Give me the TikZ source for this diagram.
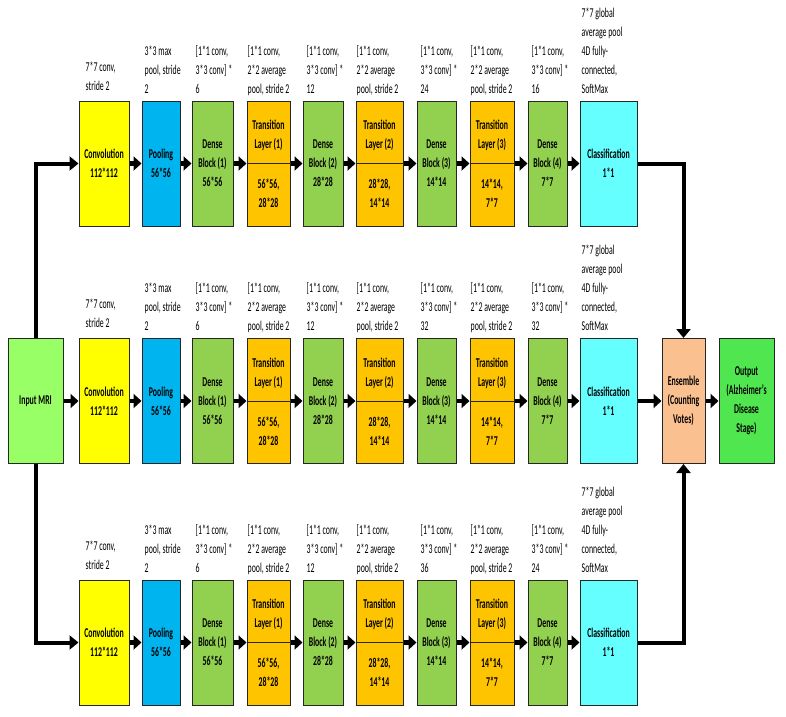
\documentclass[tikz,border=0pt]{standalone}
\usepackage{fontspec}
\setmainfont{Carlito}[FakeStretch=0.58]
\usetikzlibrary{arrows.meta}
\definecolor{convc}{HTML}{FFFF00}
\definecolor{poolc}{HTML}{00B4F0}
\definecolor{densec}{HTML}{92D050}
\definecolor{transc}{HTML}{FFC400}
\definecolor{clsc}{HTML}{66FFFF}
\definecolor{inpc}{HTML}{99FF66}
\definecolor{ensc}{HTML}{FAC090}
\definecolor{outc}{HTML}{4FE64F}
\tikzset{
  box/.style={draw=black!85, line width=1pt, minimum height=125pt, inner sep=0pt,
    align=center, font=\fontsize{13.5}{19}\selectfont\bfseries, text=black},
  lbl/.style={inner sep=0pt, align=center, font=\fontsize{13.5}{19}\selectfont\bfseries},
  ann/.style={anchor=south west, inner sep=0pt, align=left, text depth=0pt,
    font=\fontsize{13.5}{19}\selectfont},
  link/.style={line width=4.5pt, -{Triangle[length=8pt,width=14pt]}},
  conn/.style={line width=4pt, -{Triangle[length=9pt,width=14pt]}},
  splitline/.style={draw=black!85, line width=1pt}
}
% transition box: name, x, y, width, top text, bottom text
\newcommand\tbox[6]{%
  \node[box, fill=transc, minimum width=#4pt] (#1) at (#2,#3) {};
  \draw[splitline] (#1.west) -- (#1.east);
  \node[lbl] (#1a) at ([yshift=28pt]#1.center) {#5};
  \node[lbl] (#1b) at ([yshift=-30pt]#1.center) {#6};
  \node[ann] (#1n) at ([xshift=1pt,yshift=7pt]#1.north west) {[1*1 conv,\\2*2 average\\pool, stride 2};
}
% dense box: name, x, y, width, number, size
\newcommand\dbox[6]{%
  \node[box, fill=densec, minimum width=#4pt] (#1) at (#2,#3) {Dense\\Block (#5)\\#6};
}
% one row: prefix, centre y, four dense repeat counts
\newcommand\dnnrow[6]{%
  \node[box, fill=convc, minimum width=50pt] (#1conv) at (104,#2) {Convolution\\112*112};
  \node[ann] (#1convn) at ([xshift=7pt,yshift=10pt]#1conv.north west) {7*7 conv,\\stride 2};
  \node[box, fill=poolc, minimum width=38pt] (#1pool) at (161,#2) {Pooling\\56*56};
  \node[ann] (#1pooln) at ([xshift=3pt,yshift=7pt]#1pool.north west) {3*3 max\\pool, stride\\2};
  \dbox{#1da}{212.5}{#2}{41}{1}{56*56}
  \node[ann] (#1dan) at ([xshift=4pt,yshift=7pt]#1da.north west) {[1*1 conv,\\3*3 conv] *\\#3};
  \tbox{#1ta}{268.5}{#2}{43}{Transition\\Layer (1)}{56*56,\\28*28}
  \dbox{#1db}{323}{#2}{40}{2}{28*28}
  \node[ann] (#1dbn) at ([xshift=4pt,yshift=7pt]#1db.north west) {[1*1 conv,\\3*3 conv] *\\#4};
  \tbox{#1tb}{379.5}{#2}{47}{Transition\\Layer (2)}{28*28,\\14*14}
  \dbox{#1dc}{436.5}{#2}{39}{3}{14*14}
  \node[ann] (#1dcn) at ([xshift=4pt,yshift=7pt]#1dc.north west) {[1*1 conv,\\3*3 conv] *\\#5};
  \tbox{#1tc}{492}{#2}{44}{Transition\\Layer (3)}{14*14,\\7*7}
  \dbox{#1dd}{547.5}{#2}{39}{4}{7*7}
  \node[ann] (#1ddn) at ([xshift=4pt,yshift=7pt]#1dd.north west) {[1*1 conv,\\3*3 conv] *\\#6};
  \node[box, fill=clsc, minimum width=57pt] (#1cls) at (608.5,#2) {Classification\\1*1};
  \node[ann] (#1clsn) at ([xshift=2pt,yshift=7pt]#1cls.north west) {7*7 global\\average pool\\4D fully-\\connected,\\SoftMax};
  \draw[link] (#1conv) -- (#1pool);
  \draw[link] (#1pool) -- (#1da);
  \draw[link] (#1da) -- (#1ta);
  \draw[link] (#1ta) -- (#1db);
  \draw[link] (#1db) -- (#1tb);
  \draw[link] (#1tb) -- (#1dc);
  \draw[link] (#1dc) -- (#1tc);
  \draw[link] (#1tc) -- (#1dd);
  \draw[link] (#1dd) -- (#1cls);
}
\begin{document}
\begin{tikzpicture}[x=1pt,y=-1pt]
\useasboundingbox[fill=white] (0,0) rectangle (786,716);
\dnnrow{ra}{163.5}{6}{12}{24}{16}
\dnnrow{rb}{401}{6}{12}{32}{32}
\dnnrow{rc}{642.5}{6}{12}{36}{24}
\node[box, fill=inpc, minimum width=55pt] (inp) at (35.5,401) {Input MRI};
\node[box, fill=ensc, minimum width=43pt] (ens) at (683.5,401) {Ensemble\\(Counting\\Votes)};
\node[box, fill=outc, minimum width=55pt] (out) at (746.5,401) {Output\\(Alzheimer’s\\Disease\\Stage)};
\draw[conn] (inp.north) |- (raconv.west);
\draw[link] (inp) -- (rbconv);
\draw[conn] (inp.south) |- (rcconv.west);
\draw[conn] (racls.east) -| (ens.north);
\draw[link] (rbcls) -- (ens);
\draw[conn] (rccls.east) -| (ens.south);
\draw[link] (ens) -- (out);
\end{tikzpicture}
\end{document}
